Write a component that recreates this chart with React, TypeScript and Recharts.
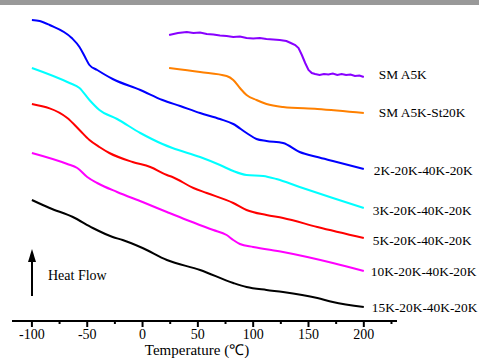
import React from 'react';
import { LineChart, Line, XAxis, YAxis, LabelList } from 'recharts';

const FONT = '"Liberation Serif","Times New Roman",Times,serif';

const majorTicks = [-100, -50, 0, 50, 100, 150, 200];
const minorTicks = [-75, -25, 25, 75, 125, 175, 225];
const allTicks = [...majorTicks, ...minorTicks].sort((a, b) => a - b);

// [temperature (°C), heat flow (arbitrary units, offset per curve)]
const sma5k: [number, number][] = [
  [24, 286], [32, 288], [40, 289], [46, 288], [52, 288.5], [58, 287], [64, 286.5], [70, 285.5],
  [76, 285], [82, 284], [88, 284.5], [94, 283], [100, 282.5], [106, 283], [112, 282], [118, 281.5],
  [124, 281], [130, 280], [134, 278], [138, 276], [141, 273], [144, 266], [147, 258], [150, 251],
  [153, 248], [156, 247], [160, 246], [164, 247], [168, 246.5], [172, 247.5], [176, 246], [180, 247],
  [184, 246], [188, 246.5], [192, 245], [196, 245.5], [200, 244],
];

const sma5kSt20k: [number, number][] = [
  [24, 253], [52, 249], [76, 245], [82, 241], [88, 233], [94, 226], [103, 221], [112, 217],
  [127, 214], [158, 212], [200, 208],
];

const k2: [number, number][] = [
  [-100, 301], [-93, 300], [-84, 296], [-64, 283], [-57, 274], [-52, 264], [-48, 256], [-41, 251],
  [-27, 242], [-2, 231], [18, 221], [34, 215], [52, 208], [70, 202], [82, 197], [94, 188],
  [103, 182], [112, 180], [127, 178], [142, 169], [158, 164], [172, 160], [200, 152],
];

const k3: [number, number][] = [
  [-100, 253], [-66, 238], [-57, 233], [-48, 221], [-39, 211], [-23, 202], [-2, 188], [18, 177],
  [27, 173], [52, 164], [70, 156], [82, 150], [94, 146], [109, 145], [121, 142], [142, 134],
  [172, 123], [200, 113],
];

const k5: [number, number][] = [
  [-100, 217], [-68, 203], [-57, 191], [-48, 181], [-39, 174], [-30, 168], [-9, 159], [7, 154],
  [22, 146], [27, 144], [46, 133], [58, 128], [82, 118], [94, 111], [112, 106], [127, 103],
  [158, 94], [200, 83],
];

const k10: [number, number][] = [
  [-100, 168], [-68, 157], [-59, 153], [-50, 144], [-41, 138], [-23, 129], [0, 119], [22, 109],
  [40, 101], [64, 91], [76, 86], [82, 81], [88, 77], [100, 74], [127, 69], [172, 58], [200, 50],
];

const k15: [number, number][] = [
  [-100, 121], [-84, 113], [-63, 104], [-45, 93], [-27, 84], [-18, 81], [0, 73], [22, 61],
  [52, 51], [82, 38], [94, 34], [112, 31], [127, 29], [158, 23], [172, 19], [200, 14],
];

const series = [
  { name: 'SM A5K', color: '#8800ff', pts: sma5k, dx: 15, dy: -3, type: 'linear' as const },
  { name: 'SM A5K-St20K', color: '#ff8000', pts: sma5kSt20k, dx: 15, dy: -1, type: 'monotone' as const },
  { name: '2K-20K-40K-20K', color: '#0000ff', pts: k2, dx: 10, dy: 1, type: 'monotone' as const },
  { name: '3K-20K-40K-20K', color: '#00ffff', pts: k3, dx: 9, dy: 2, type: 'monotone' as const },
  { name: '5K-20K-40K-20K', color: '#ff0000', pts: k5, dx: 9, dy: 2, type: 'monotone' as const },
  { name: '10K-20K-40K-20K', color: '#ff00ff', pts: k10, dx: 7, dy: 0, type: 'monotone' as const },
  { name: '15K-20K-40K-20K', color: '#000000', pts: k15, dx: 8, dy: 0, type: 'monotone' as const },
];

function AxisTick(props: any) {
  const { x, y, payload } = props;
  const major = majorTicks.includes(payload.value);
  return (
    <g>
      <line x1={x} x2={x} y1={y} y2={y + (major ? 6 : 3)} stroke="#000" strokeWidth={2} />
      {major && (
        <text x={x} y={y + 13} textAnchor="middle" dominantBaseline="central" fontSize={14} fontFamily={FONT} fill="#000">
          {payload.value}
        </text>
      )}
    </g>
  );
}

function makeEndLabel(name: string, last: number, dx: number, dy: number) {
  return (props: any) => {
    const { x, y, index } = props;
    if (index !== last) return null;
    return (
      <text x={Number(x) + dx} y={Number(y) + dy} dominantBaseline="central" fontSize={13.4} fontFamily={FONT} fill="#000">
        {name}
      </text>
    );
  };
}

export default function App() {
  return (
    <div style={{ position: 'absolute', left: 0, top: 0, width: 479, height: 358, background: '#fff', fontFamily: FONT }}>
      <div style={{ position: 'absolute', left: 0, top: 0, width: 479, height: 5, background: '#999999' }} />
      <LineChart width={479} height={358} margin={{ top: 0, right: 82, bottom: 0, left: 12 }}>
        <XAxis
          type="number"
          dataKey="t"
          domain={[-118, 230]}
          ticks={allTicks}
          interval={0}
          tickSize={0}
          tickMargin={0}
          tickLine={false}
          axisLine={{ stroke: '#000', strokeWidth: 2 }}
          tick={<AxisTick />}
          height={37}
          allowDataOverflow
        />
        <YAxis type="number" domain={[0, 321]} hide />
        {series.map((s) => {
          const data = s.pts.map(([t, v]) => ({ t, v }));
          return (
            <Line
              key={s.name}
              data={data}
              dataKey="v"
              type={s.type}
              stroke={s.color}
              strokeWidth={2}
              dot={false}
              activeDot={false}
              isAnimationActive={false}
            >
              <LabelList dataKey="v" content={makeEndLabel(s.name, data.length - 1, s.dx, s.dy)} />
            </Line>
          );
        })}
        <g>
          <line x1={32} x2={32} y1={296} y2={258} stroke="#000" strokeWidth={2} />
          <polygon points="32,249 28,262 36,262" fill="#000" />
          <text x={48} y={275} dominantBaseline="central" fontSize={14} fontFamily={FONT} fill="#000">Heat Flow</text>
          <text x={197} y={350} textAnchor="middle" dominantBaseline="central" fontSize={15} fontFamily={FONT} fill="#000">Temperature (℃)</text>
        </g>
      </LineChart>
    </div>
  );
}
